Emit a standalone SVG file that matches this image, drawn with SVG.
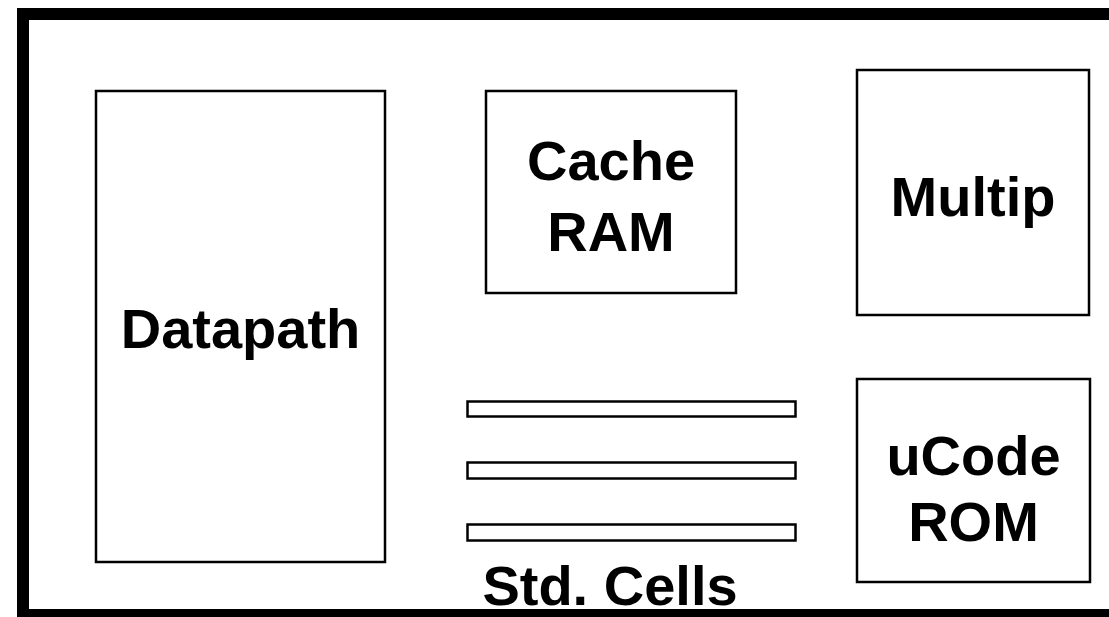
<svg xmlns="http://www.w3.org/2000/svg" width="1109" height="617" viewBox="0 0 1109 617">
<style>
.blk{fill:#fff;stroke:#000;stroke-width:2.5}
.cell{fill:#fff;stroke:#000;stroke-width:2.5}
.lbl{font-family:"Liberation Sans",Arial,sans-serif;font-weight:bold;font-size:56px;fill:#000;text-anchor:middle}
</style>
<rect width="1109" height="617" fill="#fff"/>
<g id="die"><rect x="23" y="14" width="1100" height="601" fill="none" stroke="#000" stroke-width="12"/></g>
<g id="datapath"><rect class="blk" x="96" y="91" width="289" height="471"/><text class="lbl" x="240.5" y="348">Datapath</text></g>
<g id="cache"><rect class="blk" x="486" y="91" width="250" height="202"/><text class="lbl" x="611" y="180">Cache</text><text class="lbl" x="611" y="251">RAM</text></g>
<g id="multip"><rect class="blk" x="857" y="70" width="232" height="245"/><text class="lbl" x="973" y="216">Multip</text></g>
<g id="ucode"><rect class="blk" x="857" y="379" width="233" height="203"/><text class="lbl" x="973.5" y="475">uCode</text><text class="lbl" x="973.5" y="541">ROM</text></g>
<g id="stdcells"><rect class="cell" x="467.5" y="401.5" width="328" height="15"/><rect class="cell" x="467.5" y="462.5" width="328" height="16"/><rect class="cell" x="467.5" y="524.5" width="328" height="16"/><text class="lbl" x="610" y="605">Std. Cells</text></g>
<g id="connectors"></g>
</svg>
